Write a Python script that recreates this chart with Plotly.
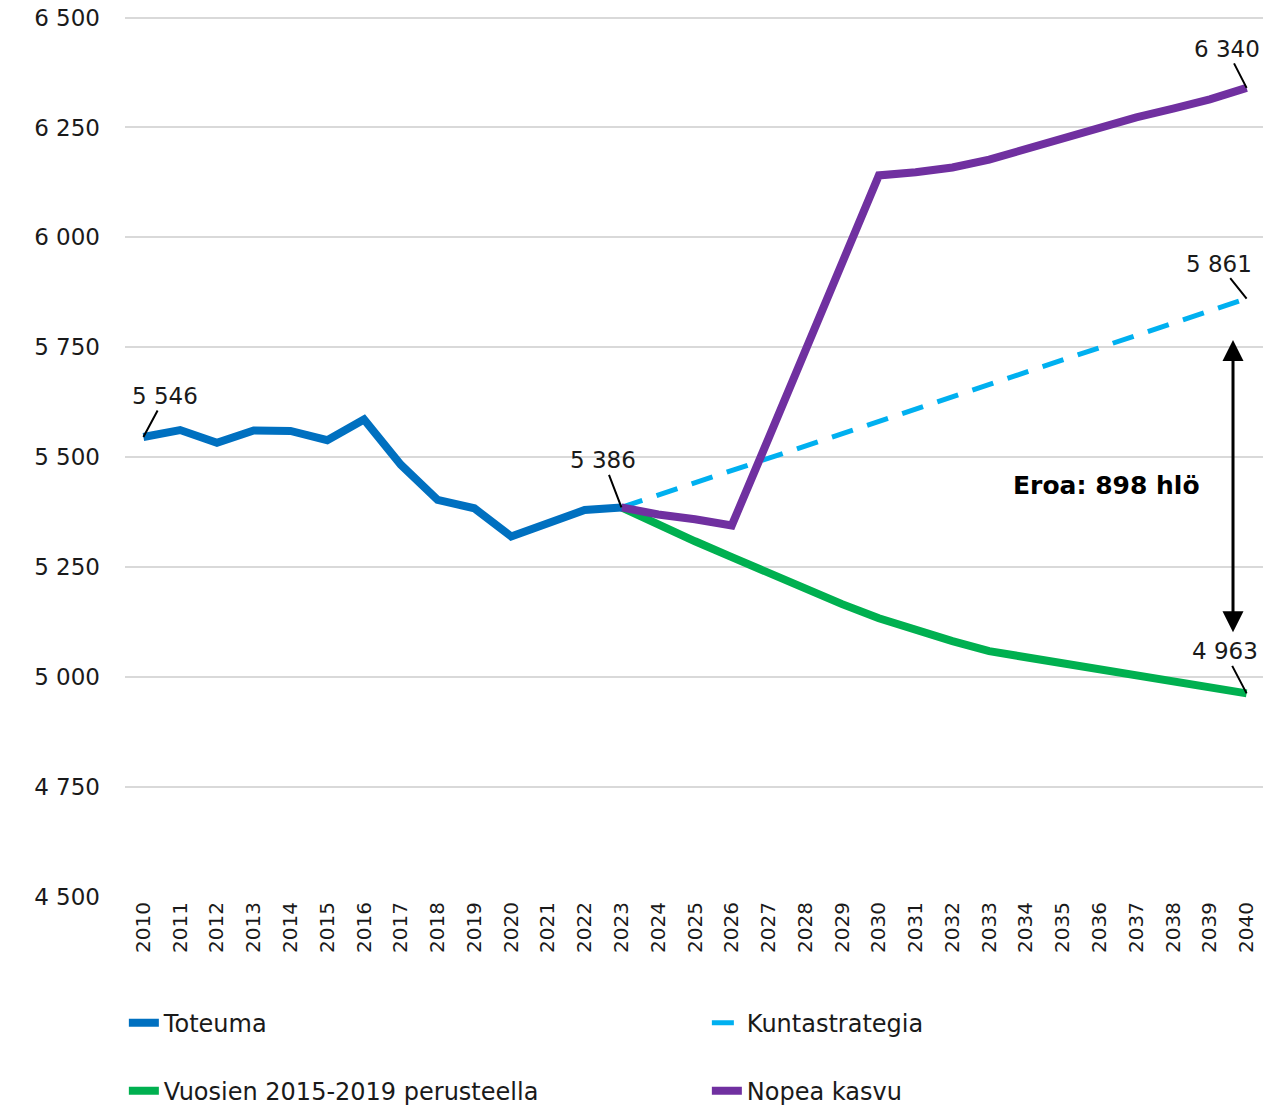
import plotly.graph_objects as go

years = list(range(2010, 2041))
toteuma_years = list(range(2010, 2024))
toteuma = [5546, 5562, 5533, 5561, 5560, 5539, 5586, 5483, 5403, 5384, 5320, 5350, 5380, 5386]

proj_years = list(range(2023, 2041))
kuntastrategia = [5386, 5414, 5442, 5470, 5498, 5526, 5554, 5582, 5610, 5638, 5666, 5693,
                  5721, 5749, 5777, 5805, 5833, 5861]
vuosien = [5386, 5345, 5309, 5273, 5236, 5200, 5166, 5134, 5107, 5082, 5059, 5045,
           5030, 5016, 5002, 4989, 4975, 4963]
nopea = [5386, 5370, 5359, 5345, 5543, 5743, 5943, 6141, 6148, 6159, 6177, 6202,
         6225, 6250, 6273, 6293, 6314, 6340]

y_ticks = [4500, 4750, 5000, 5250, 5500, 5750, 6000, 6250, 6500]

FONT = "DejaVu Sans"
TXT = "#1a1a1a"
C_TOT = "#0070C0"
C_KUN = "#00B0F0"
C_VUO = "#00B050"
C_NOP = "#7030A0"

fig = go.Figure()
fig.add_trace(go.Scatter(x=proj_years, y=kuntastrategia, mode="lines", name="Kuntastrategia",
                         line=dict(color=C_KUN, width=5, dash="22px,15px"),
                         legend="legend", legendrank=2))
fig.add_trace(go.Scatter(x=proj_years, y=vuosien, mode="lines", name="Vuosien 2015-2019 perusteella",
                         line=dict(color=C_VUO, width=8), legend="legend2", legendrank=1))
fig.add_trace(go.Scatter(x=proj_years, y=nopea, mode="lines", name="Nopea kasvu",
                         line=dict(color=C_NOP, width=8), legend="legend2", legendrank=2))
fig.add_trace(go.Scatter(x=toteuma_years, y=toteuma, mode="lines", name="Toteuma",
                         line=dict(color=C_TOT, width=8), legend="legend", legendrank=1))

def fmt(v):
    return f"{v:,}".replace(",", " ")

labels = [
    (2010, toteuma[0], 22, -41),
    (2023, toteuma[-1], -18, -47),
    (2040, nopea[-1], -20, -39),
    (2040, kuntastrategia[-1], -28, -35),
    (2040, vuosien[-1], -22, -42),
]
for x, y, ax, ay in labels:
    fig.add_annotation(x=x, y=y, text=fmt(y), showarrow=True, arrowhead=0, arrowwidth=2,
                       arrowcolor="#000000", ax=ax, ay=ay, standoff=0,
                       font=dict(family=FONT, size=23, color=TXT))

# difference arrow
fig.add_annotation(x=2039.63, y=5102, ax=2039.63, ay=5770, axref="x", ayref="y",
                   xref="x", yref="y", text="", showarrow=True, arrowhead=2,
                   arrowside="end+start", arrowsize=1.4, arrowwidth=3, arrowcolor="#000000")
fig.add_annotation(x=2036.2, y=5436, text="<b>Eroa: %d hlö</b>" % (kuntastrategia[-1] - vuosien[-1]),
                   showarrow=False, font=dict(family=FONT, size=25, color="#000000"))

legend_common = dict(orientation="h", x=-0.001, xanchor="left", yanchor="middle",
                     entrywidth=538, entrywidthmode="pixels", traceorder="normal",
                     font=dict(family=FONT, size=24, color=TXT), bgcolor="rgba(0,0,0,0)")

# page body has an 8px default margin, so the figure is sized to fit the window
fig.update_layout(
    width=1263, height=1097,
    margin=dict(l=117, r=6, t=8, b=208, autoexpand=False),
    plot_bgcolor="white", paper_bgcolor="white",
    separators=", ",
    font=dict(family=FONT, size=22, color=TXT),
    xaxis=dict(range=[2009.5, 2040.5], tickmode="array", tickvals=years,
               ticktext=[str(y) for y in years], tickangle=-90, automargin=False,
               ticklabeloverflow="allow",
               showgrid=False, zeroline=False, showline=False, ticks="",
               tickfont=dict(family=FONT, size=20, color=TXT)),
    yaxis=dict(range=[4500, 6503.5], tickvals=y_ticks, tickformat=",d", automargin=False,
               ticklabeloverflow="allow",
               showgrid=True, gridcolor="#D9D9D9", gridwidth=2, zeroline=False,
               showline=False, ticks="", ticklabelstandoff=24,
               tickfont=dict(family=FONT, size=23, color=TXT)),
    legend=dict(y=-0.1432, **legend_common),
    legend2=dict(y=-0.2205, **legend_common),
)

fig.write_html("out.html")
